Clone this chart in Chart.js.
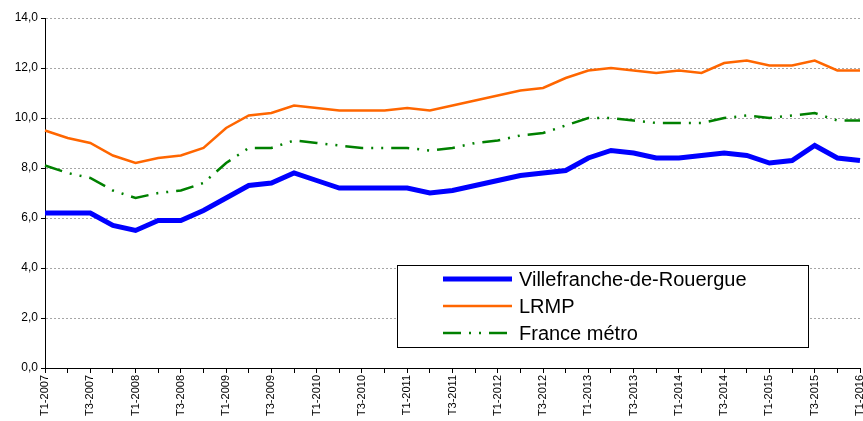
<!DOCTYPE html>
<html>
<head>
<meta charset="utf-8">
<script src="https://cdn.jsdelivr.net/npm/chart.js@4.4.0/dist/chart.umd.min.js"></script>
<style>
  html, body { margin: 0; padding: 0; background: #fff; }
  #wrap { width: 863px; height: 421px; position: relative; }
</style>
</head>
<body>
<div id="wrap"><canvas id="myLineChart"></canvas></div>
<script>
// quarters T1-2007 .. T1-2016
var quarters = [];
for (var yr = 2007; yr <= 2016; yr++) {
  for (var q = 1; q <= 4; q++) {
    if (yr == 2016 && q > 1) break;
    quarters.push("T" + q + "-" + yr);
  }
}

var seriesNames = ["Villefranche-de-Rouergue", "LRMP", "France métro"];

var villefranche = [6.2, 6.2, 6.2, 5.7, 5.5, 5.9, 5.9, 6.3, 6.8, 7.3, 7.4, 7.8, 7.5, 7.2, 7.2, 7.2, 7.2, 7.0, 7.1,
  7.3, 7.5, 7.7, 7.8, 7.9, 8.4, 8.7, 8.6, 8.4, 8.4, 8.5, 8.6, 8.5, 8.2, 8.3, 8.9, 8.4, 8.3];
var lrmp = [9.5, 9.2, 9.0, 8.5, 8.2, 8.4, 8.5, 8.8, 9.6, 10.1, 10.2, 10.5, 10.4, 10.3, 10.3, 10.3, 10.4, 10.3, 10.5,
  10.7, 10.9, 11.1, 11.2, 11.6, 11.9, 12.0, 11.9, 11.8, 11.9, 11.8, 12.2, 12.3, 12.1, 12.1, 12.3, 11.9, 11.9];
var franceMetro = [8.1, 7.8, 7.6, 7.1, 6.8, 7.0, 7.1, 7.4, 8.2, 8.8, 8.8, 9.1, 9.0, 8.9, 8.8, 8.8, 8.8, 8.7, 8.8,
  9.0, 9.1, 9.3, 9.4, 9.7, 10.0, 10.0, 9.9, 9.8, 9.8, 9.8, 10.0, 10.1, 10.0, 10.1, 10.2, 9.9, 9.9];

var yTicks = [0, 2, 4, 6, 8, 10, 12, 14];

var ctx = document.getElementById("myLineChart").getContext("2d");

// legend box drawn inside the plot, like the original
var boxLegend = {
  id: "boxLegend",
  afterDraw: function (chart) {
    var c = chart.ctx;
    var x0 = 397, y0 = 265, w = 411, h = 82;
    c.save();
    c.fillStyle = "#fff";
    c.fillRect(x0, y0, w, h);
    c.strokeStyle = "#000";
    c.lineWidth = 1;
    c.strokeRect(x0 + 0.5, y0 + 0.5, w, h);
    c.font = "20px 'Liberation Sans', Arial, sans-serif";
    c.textBaseline = "middle";
    c.fillStyle = "#000";
    chart.data.datasets.forEach(function (ds, i) {
      var y = y0 + 14 + i * 27;
      c.beginPath();
      c.strokeStyle = ds.borderColor;
      c.lineWidth = ds.borderWidth;
      c.lineCap = "butt";
      c.setLineDash(ds.borderDash || []);
      c.moveTo(443, y);
      c.lineTo(512, y);
      c.stroke();
      c.setLineDash([]);
      c.fillText(ds.label, 519, y + 1);
    });
    c.restore();
  },
};

var myLineChart = new Chart(ctx, {
  type: "line",
  data: {
    labels: quarters,
    datasets: [
      {
        label: seriesNames[0],
        data: villefranche,
        borderColor: "#0000FF",
        borderWidth: 5,
      },
      {
        label: seriesNames[1],
        data: lrmp,
        borderColor: "#FF6600",
        borderWidth: 2.5,
      },
      {
        label: seriesNames[2],
        data: franceMetro,
        borderColor: "#008000",
        borderWidth: 2.5,
        borderDash: [18, 8, 2, 8, 2, 8],
      },
    ],
  },
  options: {
    responsive: true,
    maintainAspectRatio: false,
    animation: false,
    layout: { padding: { top: 18, right: 3, left: 0, bottom: 0 } },
    elements: {
      point: { radius: 0 },
      line: { tension: 0, borderCapStyle: "butt" },
    },
    plugins: {
      legend: { display: false },
      tooltip: { enabled: false },
    },
    scales: {
      x: {
        offset: false,
        grid: {
          display: true,
          drawOnChartArea: false,
          drawTicks: true,
          tickLength: 5,
          color: "#000",
        },
        border: { display: true, color: "#000", width: 1 },
        ticks: {
          autoSkip: false,
          minRotation: 90,
          maxRotation: 90,
          padding: 2,
          color: "#000",
          font: { family: "'Liberation Sans', Arial, sans-serif", size: 11 },
          callback: function (val, index) {
            return index % 2 == 0 ? quarters[index] : "";
          },
        },
        afterFit: function (scale) {
          scale.height = 53;
          // last label is allowed to run off the right edge (clipped like the original)
          scale.paddingRight = 3;
          scale.paddingLeft = 0;
        },
      },
      y: {
        min: 0,
        max: 14,
        afterBuildTicks: function (scale) {
          scale.ticks = yTicks.map(function (v) { return { value: v }; });
        },
        grid: {
          color: "#a6a6a6",
          tickLength: 4,
          tickColor: "#000",
        },
        border: { display: true, color: "#000", width: 1, dash: [2, 2] },
        ticks: {
          padding: 3,
          color: "#000",
          font: { family: "'Liberation Sans', Arial, sans-serif", size: 12 },
          callback: function (val) {
            return val.toFixed(1).replace(".", ",");
          },
        },
        afterFit: function (scale) {
          scale.width = 45;
        },
      },
    },
  },
  plugins: [boxLegend],
});
</script>
</body>
</html>
